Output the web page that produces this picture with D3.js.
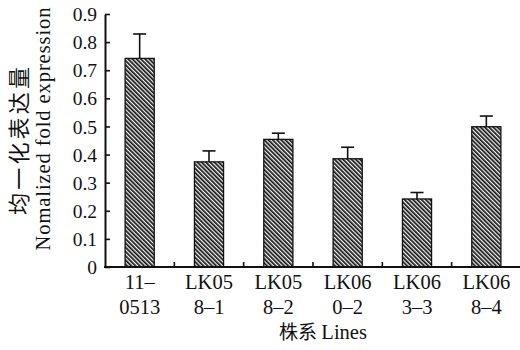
<!DOCTYPE html>
<html>
<head>
<meta charset="utf-8">
<script src="https://cdn.jsdelivr.net/npm/d3@7"></script>
<style>
  body { margin: 0; background: #fff; }
  text { font-family: "Liberation Serif", "DejaVu Serif", serif; fill: #111; }
  .cjk { font-family: "Noto Sans CJK SC", sans-serif; }
</style>
</head>
<body>
<svg id="chart" width="520" height="350"></svg>
<script>
// strains (two-line tick labels)
var lineTop = ['11\u2013', 'LK05', 'LK05', 'LK06', 'LK06', 'LK06'];
var lineBottom = ['0513', '8\u20131', '8\u20132', '0\u20132', '3\u20133', '8\u20134'];
// normalized fold expression and its error
var means = [0.742, 0.374, 0.454, 0.385, 0.242, 0.499];
var errors = [0.087, 0.039, 0.022, 0.041, 0.023, 0.038];
var yTicks = [0, 0.1, 0.2, 0.3, 0.4, 0.5, 0.6, 0.7, 0.8, 0.9];

var svg = d3.select('#chart');
var plotLeft = 105, plotRight = 521, plotTop = 14, plotBottom = 267;

var idx = d3.range(means.length);
var x = d3.scaleBand().domain(idx).range([plotLeft, plotRight]).padding(0);
var y = d3.scaleLinear().domain([0, 0.9]).range([plotBottom, plotTop]);
var barW = x.bandwidth() * 0.42;

// hatch fill
var pat = svg.append('defs').append('pattern')
    .attr('id', 'hatch')
    .attr('patternUnits', 'userSpaceOnUse')
    .attr('width', 3)
    .attr('height', 3)
    .attr('patternTransform', 'rotate(-45)');
pat.append('rect').attr('width', 3).attr('height', 3).attr('fill', '#f2f2f2');
pat.append('rect').attr('width', 1.7).attr('height', 3).attr('fill', '#141414');

// bars
svg.selectAll('rect.bar').data(idx).enter().append('rect')
    .attr('class', 'bar')
    .attr('x', function(i) { return x(i) + (x.bandwidth() - barW) / 2; })
    .attr('y', function(i) { return y(means[i]); })
    .attr('width', barW)
    .attr('height', function(i) { return y(0) - y(means[i]); })
    .attr('fill', 'url(#hatch)')
    .attr('stroke', '#111')
    .attr('stroke-width', 1.3);

// error bars
var eb = svg.selectAll('g.err').data(idx).enter().append('g').attr('class', 'err');
eb.append('line')
    .attr('x1', function(i) { return x(i) + x.bandwidth() / 2; })
    .attr('x2', function(i) { return x(i) + x.bandwidth() / 2; })
    .attr('y1', function(i) { return y(means[i]); })
    .attr('y2', function(i) { return y(means[i] + errors[i]); })
    .attr('stroke', '#111').attr('stroke-width', 1.6);
eb.append('line')
    .attr('x1', function(i) { return x(i) + x.bandwidth() / 2 - 6.5; })
    .attr('x2', function(i) { return x(i) + x.bandwidth() / 2 + 6.5; })
    .attr('y1', function(i) { return y(means[i] + errors[i]); })
    .attr('y2', function(i) { return y(means[i] + errors[i]); })
    .attr('stroke', '#111').attr('stroke-width', 1.6);

// y axis, ticks inward
var yAxis = svg.append('g')
    .attr('transform', 'translate(' + plotLeft + ',0)')
    .call(d3.axisRight(y).tickValues(yTicks).tickSize(5).tickSizeOuter(0).tickFormat(d3.format('.1~f')))
    .attr('font-family', null);
yAxis.select('.domain').attr('stroke', '#111').attr('stroke-width', 2);
yAxis.selectAll('.tick line').attr('stroke', '#111').attr('stroke-width', 1.6);
yAxis.selectAll('.tick text')
    .attr('x', -8)
    .attr('dy', '0.34em')
    .attr('text-anchor', 'end')
    .attr('font-size', 19.5)
    .attr('fill', null);

// x axis line with inward ticks at band boundaries
svg.append('line')
    .attr('x1', plotLeft - 1).attr('x2', 520)
    .attr('y1', plotBottom).attr('y2', plotBottom)
    .attr('stroke', '#111').attr('stroke-width', 2);
svg.selectAll('line.xtick').data(idx.slice(1)).enter().append('line')
    .attr('class', 'xtick')
    .attr('x1', function(i) { return x(i); })
    .attr('x2', function(i) { return x(i); })
    .attr('y1', plotBottom).attr('y2', plotBottom - 5)
    .attr('stroke', '#111').attr('stroke-width', 1.6);

// category labels
var lab = svg.selectAll('text.cat').data(idx).enter().append('text')
    .attr('class', 'cat')
    .attr('text-anchor', 'middle')
    .attr('font-size', 20.5)
    .attr('x', function(i) { return x(i) + x.bandwidth() / 2; });
lab.append('tspan').attr('y', 289).text(function(i) { return lineTop[i]; });
lab.append('tspan').attr('y', 314)
    .attr('x', function(i) { return x(i) + x.bandwidth() / 2; })
    .text(function(i) { return lineBottom[i]; });

// axis titles
var xt = svg.append('text').attr('x', 323).attr('y', 339).attr('text-anchor', 'middle').attr('font-size', 20.5);
xt.append('tspan').attr('class', 'cjk').attr('font-size', 19).text('株系 ');
xt.append('tspan').text('Lines');

svg.append('text')
    .attr('class', 'cjk')
    .attr('transform', 'translate(27,141) rotate(-90)')
    .attr('text-anchor', 'middle')
    .attr('font-size', 22)
    .attr('textLength', 148)
    .attr('lengthAdjust', 'spacing')
    .text('均一化表达量');
svg.append('text')
    .attr('transform', 'translate(50,129) rotate(-90)')
    .attr('text-anchor', 'middle')
    .attr('font-size', 20.5)
    .attr('textLength', 243)
    .attr('lengthAdjust', 'spacing')
    .text('Nomalized fold expression');
</script>
</body>
</html>
